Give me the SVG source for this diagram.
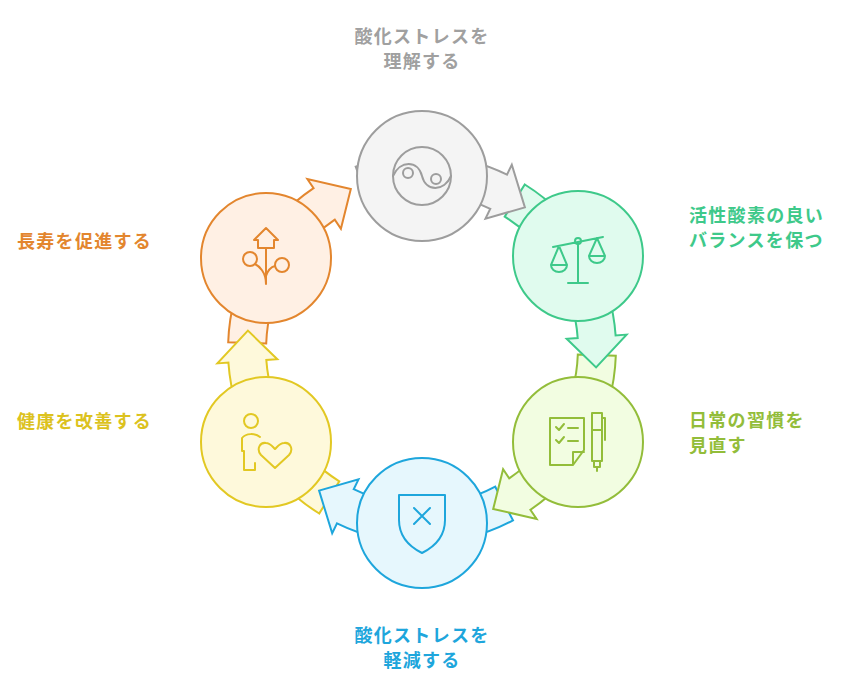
<svg xmlns="http://www.w3.org/2000/svg" width="844" height="689" viewBox="0 0 844 689">
<style>
text{font-family:"Noto Sans CJK JP","Noto Sans",sans-serif;font-weight:bold;font-size:18px;letter-spacing:1.3px}
.a,.n,.i{stroke-width:2;stroke-linejoin:miter}
.i{fill:none;stroke-linecap:round;stroke-linejoin:round}
.gray{fill:#f4f4f4;stroke:#9d9d9d}.green{fill:#e0fbee;stroke:#3ec98a}.lime{fill:#f2fde1;stroke:#93bd3a}
.blue{fill:#e6f7fd;stroke:#1ea6dc}.yellow{fill:#fef9db;stroke:#e2c823}.orange{fill:#fff0e4;stroke:#e3862e}
</style>
<rect width="844" height="689" fill="#fff"/>
<g id="connectors">
<path class="a orange" d="M228.2,342.2 A194,194 0 0 1 313.6,188.2 L307.4,179.1 L350.8,189 L340.9,228.8 L334.8,219.7 A156,156 0 0 0 266.2,343.5 Z"/>
<path class="a yellow" d="M319.2,513.5 A194,194 0 0 1 228.4,362.6 L217.4,363.4 L247.9,330.6 L277.3,359.2 L266.3,359.9 A156,156 0 0 0 339.3,481.3 Z"/>
<path class="a blue" d="M513,520.3 A194,194 0 0 1 337,523.4 L332.2,533.3 L319.1,490.6 L358.5,479.4 L353.7,489.2 A156,156 0 0 0 495.2,486.7 Z"/>
<path class="a lime" d="M615.8,355.8 A194,194 0 0 1 530.4,509.8 L536.6,518.9 L493.2,509 L503.1,469.2 L509.2,478.3 A156,156 0 0 0 577.8,354.5 Z"/>
<path class="a green" d="M524.8,184.5 A194,194 0 0 1 615.6,335.4 L626.6,334.6 L596.1,367.4 L566.7,338.8 L577.7,338.1 A156,156 0 0 0 504.7,216.7 Z"/>
<path class="a gray" d="M355.7,166.6 A194,194 0 0 1 507,174.6 L511.8,164.7 L524.9,207.4 L485.5,218.6 L490.3,208.8 A156,156 0 0 0 368.6,202.4 Z"/>
</g>
<g id="n1"><circle class="n gray" cx="422" cy="176" r="65"/>
<g class="i" stroke="#9d9d9d"><circle cx="422" cy="176" r="29"/><path d="M393,176 C400,160 418,160 422,176 C426,192 444,192 451,176"/><circle cx="408" cy="173" r="5"/><circle cx="436" cy="179" r="5"/></g>
<text x="422" y="43" text-anchor="middle" fill="#a0a0a0">酸化ストレスを</text><text x="422" y="68" text-anchor="middle" fill="#a0a0a0">理解する</text></g>
<g id="n2"><circle class="n green" cx="578" cy="256" r="65"/>
<g class="i" stroke="#3ec98a"><path d="M578,242 V283 M568,283 H588 M553,247 L603,237 M559,246 L551,265 M559,246 L567,265 M551,265 A8,7 0 0 0 567,265 Z M597,238 L589,256 M597,238 L605,256 M589,256 A8,7 0 0 0 605,256 Z"/><circle cx="578" cy="241" r="3"/></g>
<text x="689" y="222" fill="#3ec98a">活性酸素の良い</text><text x="689" y="247" fill="#3ec98a">バランスを保つ</text></g>
<g id="n3"><circle class="n lime" cx="578" cy="442" r="65"/>
<g class="i" stroke="#93bd3a"><path d="M550,418 H584 V450 L573,465 H550 Z M573,465 V452 H584 M556,427 L559,430 L564,424 M568,428 H578 M556,440 L559,443 L564,437 M568,441 H578 M592,413 H602 V461 H592 Z M592,430 H602 M602,418 H605 V440 M594,461 V467 H600 V461 M597,467 V471"/></g>
<text x="689" y="427" fill="#93bd3a">日常の習慣を</text><text x="689" y="452" fill="#93bd3a">見直す</text></g>
<g id="n4"><circle class="n blue" cx="422" cy="523" r="65"/>
<g class="i" stroke="#1ea6dc"><path d="M399,495 H445 V520 C445,537 434,547 422,553 C410,547 399,537 399,520 Z M414,508 L430,524 M430,508 L414,524"/></g>
<text x="422" y="642" text-anchor="middle" fill="#1ea6dc">酸化ストレスを</text><text x="422" y="667" text-anchor="middle" fill="#1ea6dc">軽減する</text></g>
<g id="n5"><circle class="n yellow" cx="266" cy="442" r="65"/>
<g class="i" stroke="#e2c823"><circle cx="251" cy="421" r="7"/><path d="M260,437 C255,433 246,433 242,438 V451 H244 V470 H255 V463 M275,468 L261,455 C256,449 260,442 266,443 C270,443 272,446 275,449 C278,446 280,443 284,443 C290,442 294,449 289,455 Z"/></g>
<text x="17" y="428" fill="#dcc21e">健康を改善する</text></g>
<g id="n6"><circle class="n orange" cx="266" cy="258" r="65"/>
<g class="i" stroke="#e3862e"><path d="M266,228 L278,240 H274 V248 H258 V240 H254 Z M266,248 V284 M266,284 C266,272 259,266 255,264 M266,276 C268,270 271,267 275,266"/><circle cx="250" cy="259" r="7"/><circle cx="282" cy="265" r="7"/></g>
<text x="17" y="248" fill="#e3862e">長寿を促進する</text></g>
</svg>
